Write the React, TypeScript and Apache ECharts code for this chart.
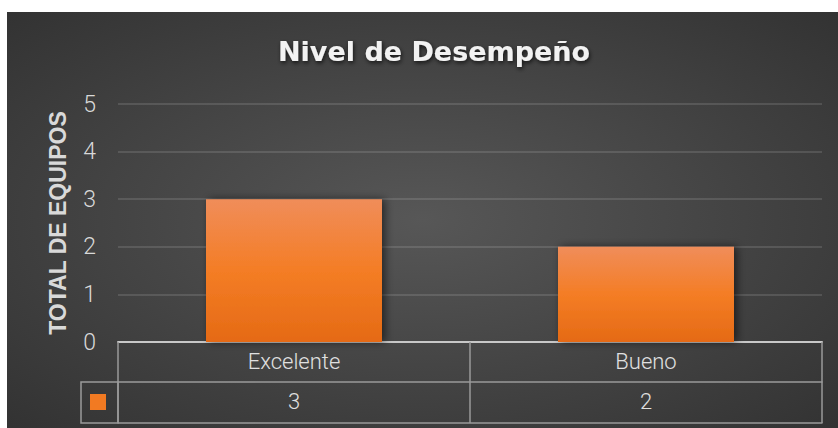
import React, { useEffect, useRef } from "react";
import * as echarts from "echarts";

const categories = ["Excelente", "Bueno"];
const values = [3, 2];
const yTicks = { min: 0, max: 5, interval: 1 };
const titleText = "Nivel de Desempeño";
const yAxisName = "TOTAL DE EQUIPOS";

export default function App() {
  const ref = useRef<HTMLDivElement>(null);
  useEffect(() => {
    const chart = echarts.init(ref.current!, undefined, { renderer: "svg" });
    const narrow = "Roboto, 'Liberation Sans', sans-serif";
    const barGrad = new echarts.graphic.LinearGradient(0, 0, 0, 1, [
      { offset: 0, color: "#f08d5a" },
      { offset: 0.5, color: "#f47d25" },
      { offset: 1, color: "#e56a15" },
    ]);
    chart.setOption({
      animation: false,
      backgroundColor: "#ffffff",
      graphic: [
        {
          type: "rect",
          z: -10,
          silent: true,
          shape: { x: 7, y: 12, width: 831, height: 416 },
          style: {
            fill: new echarts.graphic.RadialGradient(0.5, 0.5, 0.95, [
              { offset: 0, color: "#575757" },
              { offset: 1, color: "#262626" },
            ]),
          },
        },
        {
          type: "rect",
          silent: true,
          shape: { x: 81, y: 382, width: 37, height: 41 },
          style: { fill: "none", stroke: "#9a9a9a", lineWidth: 1.5 },
        },
        {
          type: "rect",
          silent: true,
          shape: { x: 90, y: 394, width: 16, height: 16 },
          style: { fill: "#f27a22" },
        },
      ],
      title: {
        text: titleText,
        left: 273,
        top: 33,
        textStyle: {
          color: "#f2f2f2",
          fontSize: 27,
          fontWeight: "bold",
          fontFamily: "'DejaVu Sans', sans-serif",
          textShadowColor: "rgba(0,0,0,0.7)",
          textShadowBlur: 4,
          textShadowOffsetX: 1,
          textShadowOffsetY: 2,
        },
      },
      grid: { left: 118, right: 16, top: 104, bottom: 86, containLabel: false },
      yAxis: {
        type: "value",
        min: yTicks.min,
        max: yTicks.max,
        interval: yTicks.interval,
        name: yAxisName,
        nameLocation: "middle",
        nameRotate: 90,
        nameGap: 49,
        nameTextStyle: {
          color: "#d9d9d9",
          fontSize: 23,
          fontWeight: "bold",
          fontFamily: "'Liberation Sans', Arial, sans-serif",
        },
        axisLine: { show: false },
        axisTick: { show: false },
        axisLabel: { color: "#d9d9d9", fontSize: 23, fontWeight: 300, margin: 22, fontFamily: narrow },
        splitLine: { lineStyle: { color: "rgba(255,255,255,0.12)", width: 2 } },
      },
      xAxis: [
        {
          type: "category",
          data: categories,
          position: "bottom",
          axisLine: { show: true, lineStyle: { color: "#c8c8c8", width: 2 } },
          axisTick: { show: true, length: 81, alignWithLabel: false, lineStyle: { color: "#9a9a9a", width: 1.5 } },
          axisLabel: { color: "#e0e0e0", fontSize: 22, fontWeight: 300, margin: 8, fontFamily: narrow },
        },
        {
          type: "category",
          data: values.map(String),
          position: "bottom",
          offset: 40,
          axisLine: { show: true, lineStyle: { color: "#9a9a9a", width: 1.5 } },
          axisTick: { show: false },
          axisLabel: { color: "#e0e0e0", fontSize: 22, fontWeight: 300, margin: 8, fontFamily: narrow },
        },
        {
          type: "category",
          data: categories,
          position: "bottom",
          offset: 81,
          axisLine: { show: true, lineStyle: { color: "#9a9a9a", width: 1.5 } },
          axisTick: { show: false },
          axisLabel: { show: false },
        },
      ],
      series: [
        {
          type: "bar",
          xAxisIndex: 0,
          data: values,
          barCategoryGap: "50%",
          itemStyle: {
            color: barGrad,
            shadowColor: "rgba(0,0,0,0.55)",
            shadowBlur: 8,
            shadowOffsetX: 3,
            shadowOffsetY: 0,
          },
        },
      ],
    });
    return () => chart.dispose();
  }, []);
  return (
    <div
      ref={ref}
      style={{ position: "absolute", left: 0, top: 0, width: 838, height: 428 }}
    />
  );
}
